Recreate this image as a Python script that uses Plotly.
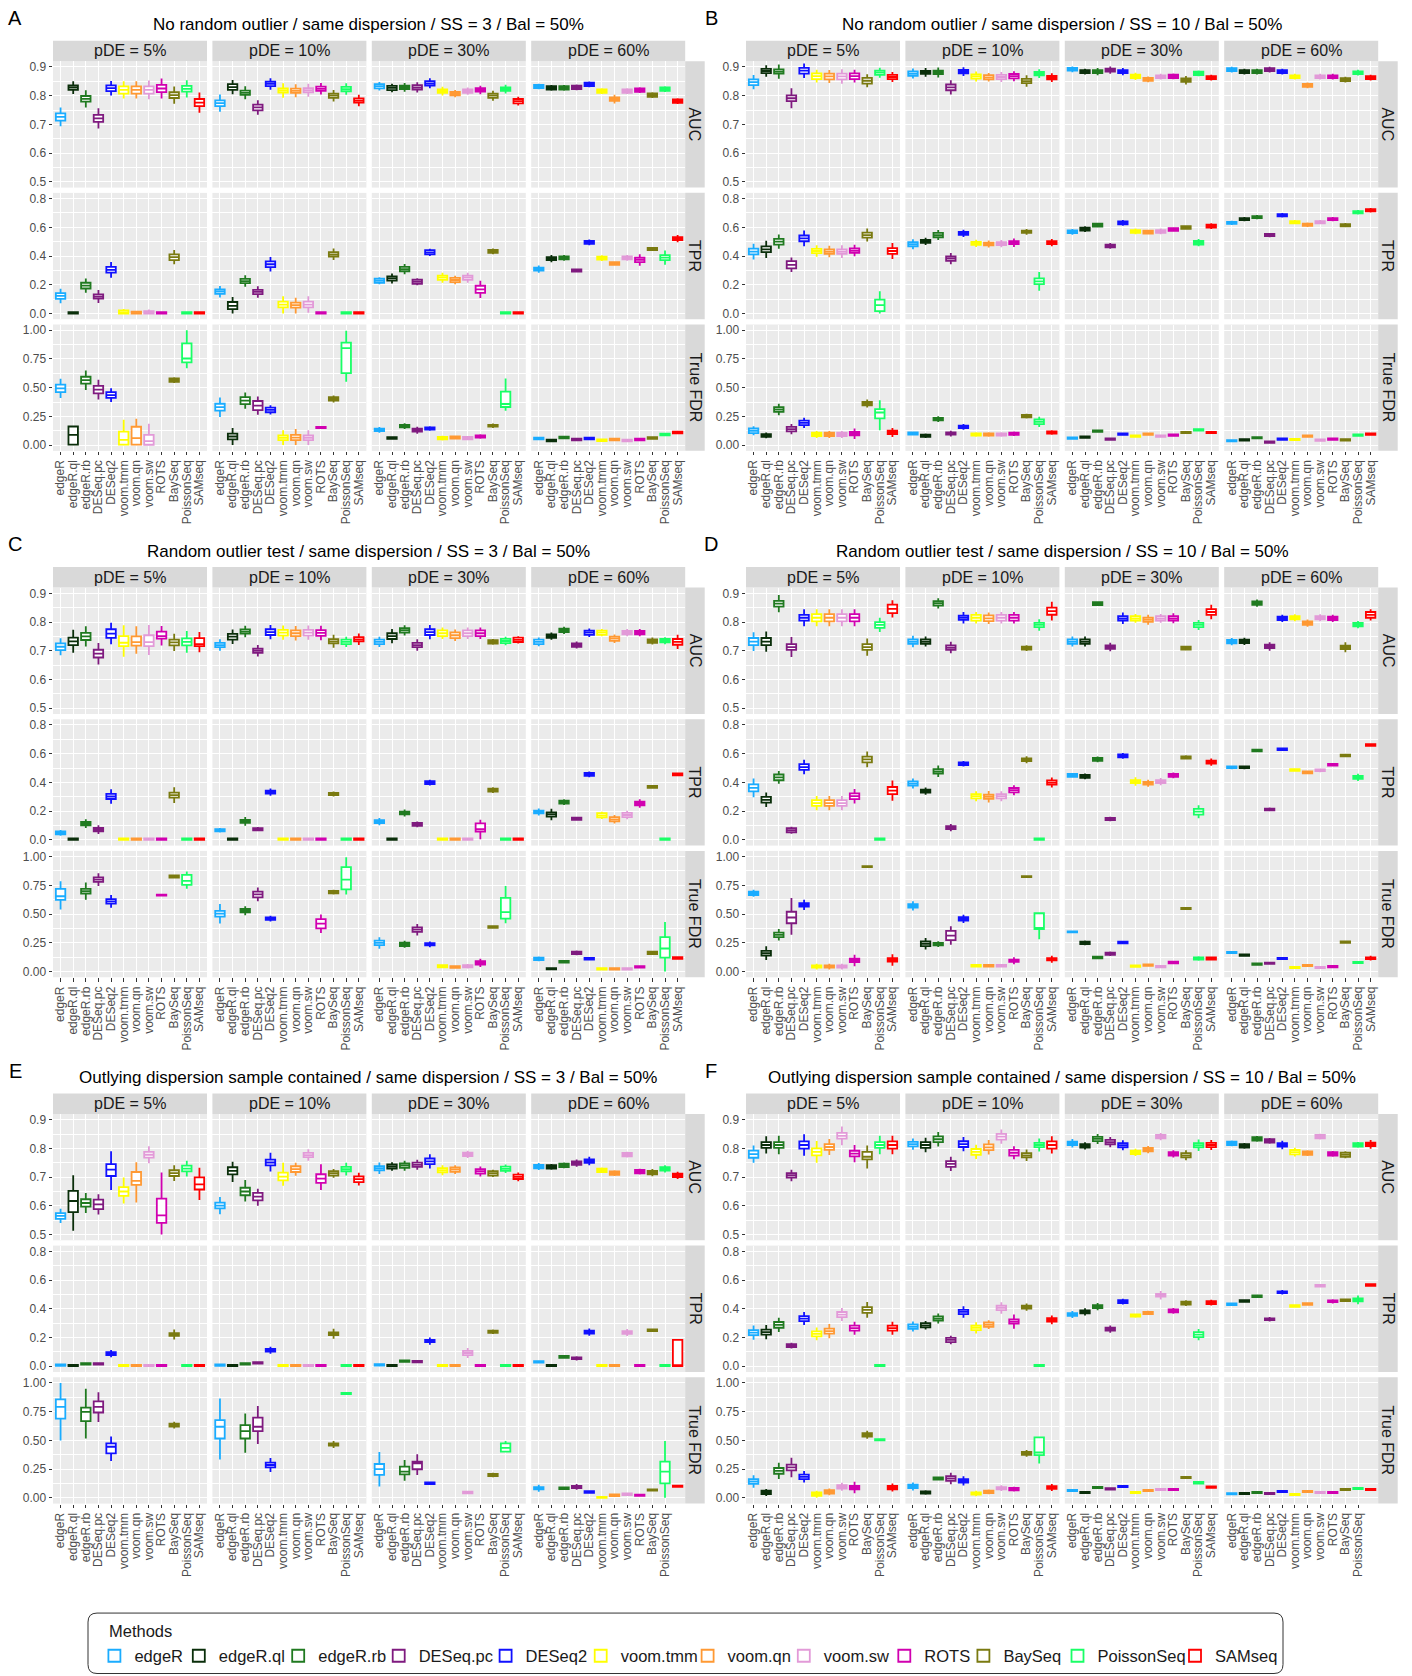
import plotly.graph_objects as go

W, H = 1412, 1676
FONT = "Liberation Sans, Arial, Helvetica, sans-serif"

METHODS = ["edgeR", "edgeR.ql", "edgeR.rb", "DESeq.pc", "DESeq2", "voom.tmm",
           "voom.qn", "voom.sw", "ROTS", "BaySeq", "PoissonSeq", "SAMseq"]
COLORS = ["#1AACFF", "#0A2E0A", "#207A20", "#7F1A7F", "#1010FF", "#FFFF00",
          "#FF9933", "#E29AD8", "#D100B0", "#7A7A10", "#19FF66", "#FF0000"]
PDE = ["pDE = 5%", "pDE = 10%", "pDE = 30%", "pDE = 60%"]
METRICS = ["AUC", "TPR", "True FDR"]
LETTERS = ["A", "B", "C", "D", "E", "F"]
TITLES = ["No random outlier / same dispersion / SS = 3 / Bal = 50%",
          "No random outlier / same dispersion / SS = 10 / Bal = 50%",
          "Random outlier test / same dispersion / SS = 3 / Bal = 50%",
          "Random outlier test / same dispersion / SS = 10 / Bal = 50%",
          "Outlying dispersion sample contained / same dispersion / SS = 3 / Bal = 50%",
          "Outlying dispersion sample contained / same dispersion / SS = 10 / Bal = 50%"]

# ---- medians (rows: pDE 5%,10%,30%,60%; columns: METHODS) ----
# IQR lists: number = box height around median, tuple = (q1, q3)
# WR lists: number = whisker span around median, tuple = (low, high)
A_AUC = [[0.726, 0.828, 0.789, 0.721, 0.826, 0.820, 0.820, 0.820, 0.825, 0.802, 0.824, 0.776],
         [0.774, 0.830, 0.810, 0.759, 0.841, 0.818, 0.817, 0.819, 0.824, 0.800, 0.823, 0.783],
         [0.833, 0.827, 0.829, 0.829, 0.843, 0.816, 0.807, 0.816, 0.820, 0.800, 0.823, 0.781],
         [0.832, 0.827, 0.827, 0.829, 0.839, 0.816, 0.788, 0.816, 0.819, 0.802, 0.823, 0.781]]
A_AUC_IQR = [[0.025, 0.015, 0.02, 0.025, 0.02, 0.025, 0.025, 0.025, 0.025, 0.02, 0.02, 0.025],
             [0.02, 0.02, 0.015, 0.02, 0.015, 0.015, 0.015, 0.015, 0.015, 0.015, 0.015, 0.015],
             [0.015, 0.015, 0.012, 0.015, 0.015, 0.012, 0.012, 0.012, 0.012, 0.015, 0.012, 0.015],
             0.012]
A_AUC_WR = [[0.065, 0.045, 0.06, 0.07, 0.05, 0.06, 0.06, 0.065, 0.07, 0.06, 0.06, 0.07],
            [0.06, 0.05, 0.045, 0.05, 0.04, 0.05, 0.045, 0.045, 0.04, 0.04, 0.04, 0.04],
            [0.03, 0.03, 0.03, 0.035, 0.035, 0.03, 0.025, 0.025, 0.03, 0.035, 0.03, 0.03],
            [0.02, 0.02, 0.02, 0.02, 0.02, 0.02, 0.03, 0.02, 0.02, 0.02, 0.02, 0.02]]
A_TPR = [[0.122, 0.0, 0.194, 0.118, 0.304, 0.007, 0.003, 0.007, 0.0, 0.392, 0.0, 0.0],
         [0.152, 0.053, 0.226, 0.150, 0.343, 0.062, 0.058, 0.062, 0.0, 0.412, 0.0, 0.0],
         [0.228, 0.244, 0.309, 0.221, 0.426, 0.249, 0.233, 0.249, 0.168, 0.433, 0.0, 0.0],
         [0.309, 0.382, 0.387, 0.300, 0.495, 0.385, 0.348, 0.387, 0.373, 0.449, 0.389, 0.521]]
A_TPR_IQR = [[0.04, 0.02, 0.04, 0.03, 0.04, 0.03, 0.02, 0.02, 0.02, 0.04, 0.02, 0.02],
             [0.03, (0.03, 0.08), 0.03, 0.03, 0.04, 0.04, 0.035, 0.04, 0.02, 0.03, 0.02, 0.02],
             [0.03, 0.03, 0.03, 0.03, 0.03, 0.03, 0.03, 0.03, 0.05, 0.02, 0.02, 0.02],
             [0.02, 0.02, 0.02, 0.015, 0.02, 0.02, 0.02, 0.02, 0.03, 0.015, 0.035, 0.02]]
A_TPR_WR = [[0.1, 0.0, 0.1, 0.09, 0.11, 0.05, 0.03, 0.04, 0.0, 0.1, 0.0, 0.0],
            [0.08, (0.0, 0.115), 0.08, 0.08, 0.1, (0.0, 0.12), (0.0, 0.11), (0.005, 0.12), 0.0, 0.08, 0.0, 0.0],
            [0.05, 0.07, 0.07, 0.05, 0.05, 0.07, 0.06, 0.07, 0.12, 0.04, 0.0, 0.0],
            [0.05, 0.05, 0.04, 0.015, 0.04, 0.04, 0.03, 0.04, 0.08, 0.015, 0.1, 0.05]]
A_FDR = [[0.494, 0.090, 0.565, 0.483, 0.436, 0.046, 0.060, 0.035, None, 0.566, 0.754, None],
         [0.330, 0.075, 0.387, 0.344, 0.306, 0.064, 0.066, 0.064, 0.153, 0.402, 0.845, None],
         [0.133, 0.061, 0.165, 0.130, 0.145, 0.061, 0.066, 0.061, 0.075, 0.168, 0.358, None],
         [0.058, 0.040, 0.066, 0.049, 0.058, 0.043, 0.049, 0.040, 0.049, 0.061, 0.092, 0.110]]
A_FDR_IQR = [[0.064, (0.005, 0.162), 0.06, 0.065, 0.05, (0.005, 0.118), (0.005, 0.16), (0.003, 0.09), 0, 0.03, (0.72, 0.885), 0],
             [0.06, 0.05, 0.06, 0.08, 0.04, 0.04, 0.045, 0.04, 0.01, 0.03, (0.627, 0.893), 0],
             [0.02, 0.015, 0.02, 0.025, 0.02, 0.02, 0.02, 0.02, 0.02, 0.015, (0.332, 0.465), 0],
             0.015]
A_FDR_WR = [[0.168, (0.0, 0.16), 0.17, 0.17, 0.12, (0.0, 0.22), (0.0, 0.23), (0.0, 0.185), 0, 0.05, (0.67, 1.0), 0],
            [0.17, (0.0, 0.15), 0.14, 0.16, 0.08, (0.0, 0.13), (0.0, 0.14), (0.0, 0.13), 0.01, 0.06, (0.552, 0.995), 0],
            [0.05, 0.02, 0.05, 0.06, 0.04, 0.04, 0.03, 0.03, 0.04, 0.04, (0.3, 0.58), 0],
            0.02]

B_AUC = [[0.847, 0.886, 0.884, 0.791, 0.887, 0.868, 0.867, 0.867, 0.868, 0.852, 0.880, 0.865],
         [0.877, 0.881, 0.881, 0.829, 0.884, 0.867, 0.864, 0.865, 0.868, 0.851, 0.877, 0.863],
         [0.892, 0.884, 0.884, 0.889, 0.884, 0.867, 0.857, 0.866, 0.867, 0.854, 0.878, 0.863],
         [0.891, 0.884, 0.884, 0.891, 0.884, 0.866, 0.836, 0.866, 0.866, 0.856, 0.880, 0.863]]
B_AUC_IQR = [[0.02, 0.015, 0.015, 0.02, 0.02, 0.02, 0.02, 0.02, 0.02, 0.02, 0.015, 0.015],
             [0.015, 0.01, 0.012, 0.02, 0.012, 0.015, 0.015, 0.015, 0.015, 0.015, 0.012, 0.012],
             [0.01, 0.01, 0.01, 0.01, 0.01, 0.012, 0.01, 0.01, 0.012, 0.012, 0.012, 0.01],
             0.01]
B_AUC_WR = [[0.05, 0.04, 0.05, 0.07, 0.05, 0.045, 0.045, 0.05, 0.045, 0.045, 0.035, 0.035],
            [0.035, 0.03, 0.035, 0.05, 0.03, 0.035, 0.03, 0.035, 0.035, 0.04, 0.03, 0.03],
            [0.02, 0.02, 0.025, 0.025, 0.025, 0.025, 0.02, 0.02, 0.02, 0.03, 0.02, 0.02],
            0.02]
B_TPR = [[0.431, 0.447, 0.500, 0.339, 0.523, 0.435, 0.431, 0.431, 0.438, 0.546, 0.058, 0.435],
         [0.482, 0.502, 0.546, 0.382, 0.558, 0.488, 0.484, 0.486, 0.493, 0.569, 0.224, 0.493],
         [0.569, 0.588, 0.615, 0.470, 0.631, 0.571, 0.567, 0.571, 0.585, 0.599, 0.493, 0.608],
         [0.631, 0.657, 0.671, 0.546, 0.684, 0.636, 0.618, 0.636, 0.657, 0.615, 0.705, 0.719]]
B_TPR_IQR = [[0.04, 0.04, 0.04, 0.05, 0.04, 0.03, 0.03, 0.03, 0.03, 0.035, (0.016, 0.097), 0.04],
             [0.03, 0.02, 0.03, 0.03, 0.02, 0.02, 0.02, 0.02, 0.02, 0.015, 0.04, 0.02],
             [0.02, 0.02, 0.02, 0.02, 0.02, 0.02, 0.02, 0.02, 0.02, 0.02, 0.025, 0.02],
             0.015]
B_TPR_WR = [[0.11, 0.12, 0.1, 0.1, 0.11, 0.08, 0.08, 0.09, 0.08, 0.09, (0.0, 0.155), 0.11],
            [0.07, 0.05, 0.07, 0.08, 0.05, 0.05, 0.05, 0.05, 0.06, 0.04, 0.13, 0.05],
            [0.04, 0.04, 0.03, 0.04, 0.04, 0.04, 0.03, 0.04, 0.03, 0.03, 0.05, 0.04],
            0.03]
B_FDR = [[0.125, 0.084, 0.310, 0.139, 0.194, 0.093, 0.093, 0.093, 0.099, 0.362, 0.284, 0.110],
         [0.101, 0.081, 0.226, 0.101, 0.159, 0.093, 0.093, 0.093, 0.099, 0.252, 0.203, 0.110],
         [0.061, 0.070, 0.122, 0.052, 0.096, 0.078, 0.096, 0.078, 0.087, 0.110, 0.133, 0.110],
         [0.038, 0.046, 0.064, 0.026, 0.052, 0.049, 0.078, 0.043, 0.052, 0.046, 0.087, 0.096]]
B_FDR_IQR = [[0.04, 0.025, 0.04, 0.04, 0.04, 0.03, 0.03, 0.03, 0.03, 0.03, (0.232, 0.313), 0.03],
             [0.02, 0.02, 0.02, 0.02, 0.02, 0.02, 0.02, 0.02, 0.02, 0.02, 0.04, 0.02],
             0.012, 0.012]
B_FDR_WR = [[0.08, 0.05, 0.1, 0.09, 0.09, 0.06, 0.06, 0.06, 0.09, 0.07, (0.13, 0.39), 0.08],
            [0.03, 0.04, 0.05, 0.05, 0.05, 0.04, 0.04, 0.04, 0.04, 0.04, 0.09, 0.04],
            0.015, 0.015]

C_AUC = [[0.714, 0.733, 0.750, 0.690, 0.760, 0.728, 0.730, 0.730, 0.751, 0.729, 0.731, 0.723],
         [0.720, 0.749, 0.767, 0.700, 0.765, 0.763, 0.761, 0.763, 0.762, 0.733, 0.731, 0.740],
         [0.731, 0.751, 0.771, 0.720, 0.765, 0.761, 0.754, 0.761, 0.761, 0.731, 0.734, 0.738],
         [0.731, 0.751, 0.771, 0.720, 0.763, 0.763, 0.742, 0.763, 0.763, 0.734, 0.735, 0.731]]
C_AUC_IQR = [[0.023, 0.026, 0.025, 0.027, 0.03, (0.716, 0.751), (0.718, 0.75), (0.716, 0.754), (0.742, 0.767), 0.02, 0.025, (0.716, 0.744)],
             [0.015, 0.02, 0.015, 0.015, 0.02, 0.02, 0.02, 0.02, 0.02, 0.015, 0.015, 0.015],
             [0.015, 0.02, 0.015, 0.015, 0.02, 0.02, 0.02, 0.02, 0.02, 0.012, 0.015, 0.015],
             [0.015, 0.012, 0.012, 0.012, 0.015, 0.015, 0.015, 0.012, 0.012, 0.012, 0.012, 0.02]]
C_AUC_WR = [[0.06, 0.08, 0.07, 0.075, 0.075, (0.679, 0.789), (0.69, 0.785), (0.685, 0.79), (0.718, 0.786), 0.06, 0.075, (0.695, 0.765)],
            [0.04, 0.05, 0.04, 0.04, 0.05, 0.05, 0.05, 0.05, 0.05, 0.045, 0.035, 0.04],
            [0.035, 0.05, 0.035, 0.04, 0.05, 0.04, 0.04, 0.04, 0.04, 0.02, 0.03, 0.025],
            [0.03, 0.025, 0.025, 0.025, 0.03, 0.025, 0.03, 0.025, 0.025, 0.025, 0.025, 0.05]]
C_TPR = [[0.048, 0.0, 0.113, 0.071, 0.302, 0.0, 0.0, 0.0, 0.0, 0.311, 0.0, 0.0],
         [0.067, 0.0, 0.129, 0.074, 0.332, 0.0, 0.0, 0.0, 0.0, 0.320, 0.0, 0.0],
         [0.127, 0.0, 0.187, 0.108, 0.399, 0.0, 0.0, 0.0, 0.074, 0.346, 0.0, 0.0],
         [0.194, 0.177, 0.263, 0.147, 0.456, 0.171, 0.143, 0.173, 0.253, 0.369, 0.0, 0.456]]
C_TPR_IQR = [[0.02, 0.02, 0.025, 0.025, 0.035, 0.02, 0.02, 0.02, 0.02, 0.035, 0.02, 0.02],
             [0.015, 0.02, 0.02, 0.015, 0.02, 0.02, 0.02, 0.02, 0.02, 0.015, 0.02, 0.02],
             [0.02, 0.02, 0.02, 0.02, 0.02, 0.02, 0.02, 0.02, (0.058, 0.115), 0.02, 0.02, 0.02],
             [0.02, 0.03, 0.02, 0.015, 0.02, 0.03, 0.03, 0.03, 0.025, 0.012, 0.02, 0.015]]
C_TPR_WR = [[0.04, 0.0, 0.06, 0.06, 0.1, 0.0, 0.0, 0.0, 0.0, 0.11, 0.0, 0.0],
            [0.03, 0.0, 0.06, 0.03, 0.05, 0.0, 0.0, 0.0, 0.0, 0.035, 0.0, 0.0],
            [0.05, 0.0, 0.05, 0.04, 0.04, 0.0, 0.0, 0.0, (0.005, 0.14), 0.04, 0.0, 0.0],
            [0.05, 0.08, 0.04, 0.025, 0.04, 0.05, 0.06, 0.06, 0.06, 0.012, 0.0, 0.02]]
C_FDR = [[0.655, None, 0.699, 0.800, 0.610, None, None, None, 0.665, 0.827, 0.789, None],
         [0.503, None, 0.529, 0.671, 0.460, None, None, None, 0.416, 0.691, 0.800, None],
         [0.249, None, 0.237, 0.364, 0.237, 0.046, 0.040, 0.046, 0.075, 0.387, 0.517, None],
         [0.110, 0.023, 0.084, 0.162, 0.110, 0.023, 0.023, 0.023, 0.040, 0.162, 0.200, 0.118]]
C_FDR_IQR = [[(0.624, 0.72), 0, 0.04, 0.04, 0.04, 0, 0, 0, 0.01, 0.02, (0.754, 0.841), 0],
             [0.05, 0, 0.03, 0.05, 0.02, 0, 0, 0, 0.08, 0.02, (0.714, 0.908), 0],
             [0.04, 0, 0.03, 0.04, 0.02, 0.02, 0.015, 0.02, 0.03, 0.015, (0.46, 0.64), 0],
             [0.02, 0.01, 0.015, 0.02, 0.015, 0.012, 0.012, 0.012, 0.012, 0.02, (0.121, 0.3), 0.015]]
C_FDR_WR = [[(0.54, 0.785), 0, 0.15, 0.11, 0.11, 0, 0, 0, 0.01, 0.035, (0.72, 0.87), 0],
            [0.17, 0, 0.08, 0.12, 0.05, 0, 0, 0, 0.16, 0.04, (0.67, 0.995), 0],
            [0.1, 0, 0.06, 0.1, 0.05, 0.03, 0.02, 0.04, 0.07, 0.02, (0.42, 0.745), 0],
            [0.04, 0.02, 0.02, 0.04, 0.02, 0.015, 0.015, 0.015, 0.015, 0.03, (0.0, 0.43), 0.02]]

D_AUC = [[0.732, 0.732, 0.864, 0.713, 0.815, 0.815, 0.815, 0.815, 0.815, 0.713, 0.790, 0.846],
         [0.732, 0.732, 0.865, 0.711, 0.815, 0.815, 0.813, 0.815, 0.815, 0.709, 0.790, 0.838],
         [0.732, 0.732, 0.864, 0.713, 0.813, 0.813, 0.808, 0.813, 0.813, 0.709, 0.790, 0.835],
         [0.732, 0.733, 0.866, 0.715, 0.813, 0.815, 0.796, 0.815, 0.813, 0.712, 0.791, 0.825]]
D_AUC_IQR = [[0.025, 0.025, 0.02, 0.02, 0.02, 0.025, 0.025, 0.025, 0.025, 0.02, 0.02, 0.03],
             [0.015, 0.015, 0.015, 0.015, 0.015, 0.02, 0.02, 0.02, 0.02, 0.01, 0.015, 0.025],
             [0.015, 0.015, 0.01, 0.012, 0.015, 0.015, 0.015, 0.015, 0.015, 0.01, 0.015, 0.02],
             [0.012, 0.012, 0.012, 0.012, 0.012, 0.012, 0.012, 0.012, 0.012, 0.012, 0.012, 0.02]]
D_AUC_WR = [[0.065, 0.07, 0.06, 0.07, 0.06, 0.06, 0.06, 0.06, 0.06, 0.06, 0.05, 0.06],
            [0.04, 0.035, 0.035, 0.04, 0.04, 0.04, 0.04, 0.04, 0.04, 0.02, 0.04, 0.065],
            [0.035, 0.035, 0.015, 0.03, 0.04, 0.03, 0.035, 0.03, 0.035, 0.015, 0.035, 0.05],
            [0.025, 0.025, 0.025, 0.03, 0.025, 0.025, 0.025, 0.025, 0.025, 0.035, 0.025, 0.04]]
D_TPR = [[0.362, 0.279, 0.435, 0.067, 0.507, 0.256, 0.256, 0.256, 0.304, 0.560, 0.0, 0.343],
         [0.392, 0.339, 0.477, 0.085, 0.530, 0.304, 0.300, 0.304, 0.346, 0.558, 0.0, 0.399],
         [0.449, 0.442, 0.560, 0.145, 0.585, 0.406, 0.394, 0.406, 0.449, 0.574, 0.196, 0.541],
         [0.505, 0.505, 0.622, 0.212, 0.631, 0.486, 0.470, 0.484, 0.523, 0.588, 0.435, 0.661]]
D_TPR_IQR = [[0.05, 0.04, 0.04, 0.03, 0.04, 0.04, 0.04, 0.04, 0.04, 0.04, 0.02, 0.05],
             [0.03, 0.02, 0.03, 0.02, 0.02, 0.03, 0.03, 0.03, 0.03, 0.02, 0.02, 0.03],
             [0.02, 0.02, 0.02, 0.015, 0.02, 0.02, 0.02, 0.02, 0.02, 0.015, 0.04, 0.02],
             [0.012, 0.012, 0.012, 0.012, 0.012, 0.012, 0.012, 0.012, 0.012, 0.012, 0.02, 0.012]]
D_TPR_WR = [[0.13, 0.1, 0.09, 0.05, 0.1, 0.1, 0.1, 0.1, 0.1, 0.11, 0.0, 0.14],
            [0.07, 0.05, 0.08, 0.05, 0.04, 0.07, 0.08, 0.07, 0.07, 0.05, 0.0, 0.07],
            [0.03, 0.04, 0.04, 0.03, 0.04, 0.06, 0.05, 0.05, 0.04, 0.03, 0.09, 0.05],
            [0.025, 0.025, 0.025, 0.025, 0.025, 0.025, 0.025, 0.025, 0.025, 0.025, 0.05, 0.025]]
D_FDR = [[0.681, 0.159, 0.319, 0.470, 0.580, 0.043, 0.043, 0.043, 0.096, 0.913, None, 0.101],
         [0.571, 0.241, 0.238, 0.313, 0.458, 0.049, 0.049, 0.049, 0.093, 0.826, 0.380, 0.107],
         [0.345, 0.249, 0.122, 0.154, 0.252, 0.046, 0.055, 0.043, 0.078, 0.548, 0.113, 0.113],
         [0.165, 0.142, 0.064, 0.072, 0.113, 0.035, 0.052, 0.035, 0.043, 0.255, 0.078, 0.116]]
D_FDR_IQR = [[0.03, 0.04, 0.04, (0.42, 0.52), 0.03, 0.02, 0.02, 0.02, 0.03, 0.01, 0, 0.03],
             [0.03, 0.04, 0.02, 0.08, 0.03, 0.015, 0.015, 0.015, 0.02, 0.01, (0.368, 0.507), 0.02],
             [0.01, 0.02, 0.015, 0.02, 0.015, 0.012, 0.012, 0.012, 0.015, 0.01, 0.02, 0.02],
             [0.012, 0.012, 0.012, 0.012, 0.012, 0.012, 0.012, 0.012, 0.012, 0.012, 0.012, 0.015]]
D_FDR_WR = [[0.06, 0.12, 0.1, (0.32, 0.64), 0.09, 0.05, 0.05, 0.05, 0.1, 0.01, 0, 0.1],
            [0.08, 0.1, 0.05, 0.16, 0.07, 0.03, 0.03, 0.03, 0.06, 0.01, (0.28, 0.507), 0.06],
            [0.01, 0.04, 0.02, 0.04, 0.03, 0.015, 0.015, 0.015, 0.03, 0.01, 0.04, 0.03],
            [0.015, 0.015, 0.015, 0.015, 0.015, 0.015, 0.015, 0.015, 0.015, 0.015, 0.015, 0.04]]

E_AUC = [[0.565, 0.617, 0.610, 0.605, 0.726, 0.650, 0.687, 0.778, 0.567, 0.714, 0.730, 0.675],
         [0.601, 0.722, 0.650, 0.632, 0.751, 0.702, 0.728, 0.777, 0.695, 0.713, 0.728, 0.693],
         [0.731, 0.737, 0.740, 0.743, 0.755, 0.724, 0.726, 0.779, 0.720, 0.713, 0.729, 0.701],
         [0.737, 0.736, 0.741, 0.749, 0.756, 0.724, 0.714, 0.778, 0.719, 0.716, 0.729, 0.706]]
E_AUC_IQR = [[0.02, (0.578, 0.652), 0.026, 0.033, (0.704, 0.745), 0.03, (0.673, 0.718), 0.02, (0.541, 0.625), 0.02, 0.02, (0.657, 0.699)],
             [0.02, 0.025, 0.026, 0.026, 0.02, 0.027, 0.02, 0.015, 0.03, 0.015, 0.015, 0.02],
             [0.015, 0.015, 0.015, 0.015, 0.02, 0.015, 0.015, 0.012, 0.015, 0.015, 0.015, 0.015],
             0.012]
E_AUC_WR = [[0.05, (0.513, 0.707), 0.07, 0.07, (0.655, 0.79), (0.608, 0.699), (0.612, 0.752), 0.06, (0.5, 0.716), 0.055, 0.055, (0.62, 0.733)],
            [0.06, (0.683, 0.754), (0.615, 0.69), (0.6, 0.66), (0.72, 0.785), (0.67, 0.75), (0.705, 0.75), 0.04, (0.655, 0.745), 0.03, 0.045, 0.045],
            [0.04, 0.03, 0.035, 0.035, 0.05, 0.035, 0.03, 0.025, 0.035, 0.025, 0.03, 0.03],
            [0.025, 0.02, 0.02, 0.025, 0.03, 0.02, 0.02, 0.02, 0.02, 0.025, 0.025, 0.025]]
E_TPR = [[0.007, 0.0, 0.016, 0.016, 0.088, 0.0, 0.0, 0.0, 0.0, 0.221, 0.0, 0.0],
         [0.007, 0.0, 0.016, 0.023, 0.111, 0.0, 0.0, 0.0, 0.0, 0.226, 0.0, 0.0],
         [0.009, 0.0, 0.035, 0.032, 0.175, 0.0, 0.0, 0.092, 0.0, 0.240, 0.0, 0.0],
         [0.030, 0.0, 0.065, 0.055, 0.237, 0.0, 0.0, 0.235, 0.0, 0.251, 0.0, 0.0]]
E_TPR_IQR = [[0.01, 0.02, 0.01, 0.01, 0.02, 0.02, 0.02, 0.02, 0.02, 0.02, 0.02, 0.02],
             [0.01, 0.02, 0.01, 0.01, 0.02, 0.02, 0.02, 0.02, 0.02, 0.02, 0.02, 0.02],
             [0.01, 0.02, 0.01, 0.01, 0.015, 0.02, 0.02, 0.03, 0.02, 0.015, 0.02, 0.02],
             [0.01, 0.02, 0.012, 0.012, 0.02, 0.02, 0.02, 0.02, 0.02, 0.012, 0.02, (0.0, 0.184)]]
E_TPR_WR = [[0.01, 0.0, 0.02, 0.02, 0.05, 0.0, 0.0, 0.0, 0.0, 0.07, 0.0, 0.0],
            [0.01, 0.0, 0.01, 0.01, 0.05, 0.0, 0.0, 0.0, 0.0, 0.07, 0.0, 0.0],
            [0.01, 0.0, 0.015, 0.015, 0.05, 0.0, 0.0, 0.07, 0.0, 0.03, 0.0, 0.0],
            [0.01, 0.0, 0.025, 0.03, 0.05, 0.0, 0.0, 0.05, 0.0, 0.025, 0.0, (0.0, 0.19)]]
E_FDR = [[0.792, None, 0.749, 0.792, 0.445, None, None, None, None, 0.633, None, None],
         [0.619, None, 0.581, 0.619, 0.286, None, None, None, None, 0.465, 0.908, None],
         [0.251, None, 0.228, 0.300, 0.127, None, None, 0.046, None, 0.199, 0.436, None],
         [0.084, None, 0.084, 0.095, 0.052, 0.003, 0.023, 0.032, 0.023, 0.069, 0.228, 0.101]]
E_FDR_IQR = [[(0.69, 0.858), 0, (0.668, 0.786), (0.743, 0.84), (0.387, 0.474), 0, 0, 0, 0, 0.025, 0, 0],
             [(0.517, 0.676), 0, (0.517, 0.633), (0.581, 0.699), 0.04, 0, 0, 0, 0, 0.02, 0.01, 0],
             [(0.2, 0.295), 0, (0.205, 0.272), (0.249, 0.315), 0.015, 0, 0, 0.015, 0, 0.02, (0.402, 0.474), 0],
             [0.02, 0, 0.015, 0.02, 0.015, 0.01, 0.015, 0.015, 0.01, 0.01, (0.127, 0.315), 0.01]]
E_FDR_WR = [[(0.5, 1.0), 0, (0.517, 0.951), (0.66, 0.92), (0.32, 0.535), 0, 0, 0, 0, 0.06, 0, 0],
            [(0.335, 0.864), 0, (0.393, 0.734), (0.47, 0.8), 0.12, 0, 0, 0, 0, 0.06, 0.01, 0],
            [(0.098, 0.4), 0, (0.15, 0.33), (0.2, 0.38), 0.03, 0, 0, 0.03, 0, 0.04, (0.4, 0.495), 0],
            [0.06, 0, 0.03, 0.05, 0.02, 0.01, 0.03, 0.02, 0.01, 0.02, (0.0, 0.494), 0.01]]

F_AUC = [[0.780, 0.812, 0.812, 0.706, 0.812, 0.788, 0.805, 0.844, 0.782, 0.771, 0.812, 0.812],
         [0.815, 0.812, 0.832, 0.746, 0.815, 0.788, 0.804, 0.841, 0.785, 0.776, 0.812, 0.812],
         [0.818, 0.809, 0.833, 0.822, 0.811, 0.786, 0.796, 0.841, 0.781, 0.776, 0.811, 0.812],
         [0.818, 0.809, 0.833, 0.826, 0.812, 0.787, 0.784, 0.841, 0.781, 0.778, 0.812, 0.814]]
F_AUC_IQR = [[0.025, 0.02, 0.02, 0.015, 0.025, 0.025, 0.02, 0.02, 0.02, (0.762, 0.788), 0.02, 0.025],
             [0.015, 0.02, 0.02, 0.02, 0.02, 0.02, 0.02, 0.02, 0.02, 0.015, 0.015, 0.025],
             [0.012, 0.012, 0.015, 0.015, 0.015, 0.012, 0.012, 0.012, 0.012, 0.015, 0.015, 0.015],
             [0.012, 0.012, 0.012, 0.012, 0.012, 0.015, 0.012, 0.012, 0.012, 0.015, 0.012, 0.012]]
F_AUC_WR = [[0.06, 0.06, 0.065, 0.04, 0.075, 0.075, 0.055, 0.065, 0.06, (0.73, 0.81), 0.065, 0.065],
            [0.04, 0.05, 0.05, 0.05, 0.05, 0.05, 0.05, 0.05, 0.045, 0.04, 0.045, 0.06],
            [0.03, 0.025, 0.035, 0.035, 0.035, 0.025, 0.025, 0.025, 0.025, 0.035, 0.04, 0.035],
            [0.02, 0.02, 0.02, 0.02, 0.03, 0.03, 0.02, 0.02, 0.02, 0.025, 0.02, 0.03]]
F_TPR = [[0.234, 0.237, 0.288, 0.144, 0.332, 0.225, 0.244, 0.360, 0.265, 0.392, 0.0, 0.265],
         [0.276, 0.285, 0.332, 0.183, 0.378, 0.267, 0.290, 0.406, 0.311, 0.411, 0.0, 0.323],
         [0.360, 0.378, 0.415, 0.258, 0.450, 0.353, 0.371, 0.494, 0.385, 0.439, 0.220, 0.443],
         [0.432, 0.455, 0.487, 0.327, 0.515, 0.420, 0.434, 0.561, 0.452, 0.459, 0.462, 0.566]]
F_TPR_IQR = [[0.035, 0.035, 0.04, 0.02, 0.035, 0.035, 0.035, 0.035, 0.035, 0.04, 0.02, 0.035],
             [0.03, 0.03, 0.03, 0.03, 0.03, 0.03, 0.03, 0.03, 0.03, 0.02, 0.02, 0.025],
             [0.02, 0.02, 0.02, 0.02, 0.02, 0.015, 0.015, 0.02, 0.02, 0.02, 0.035, 0.02],
             [0.012, 0.012, 0.012, 0.012, 0.012, 0.012, 0.012, 0.012, 0.012, 0.012, 0.02, 0.012]]
F_TPR_WR = [[0.1, 0.1, 0.1, 0.04, 0.09, 0.09, 0.1, 0.09, 0.09, 0.11, 0.0, 0.09],
            [0.07, 0.06, 0.07, 0.06, 0.08, 0.08, 0.06, 0.08, 0.1, 0.05, 0.0, 0.06],
            [0.05, 0.05, 0.05, 0.05, 0.04, 0.03, 0.03, 0.06, 0.04, 0.04, 0.08, 0.04],
            [0.02, 0.02, 0.02, 0.03, 0.03, 0.02, 0.02, 0.02, 0.03, 0.02, 0.06, 0.02]]
F_FDR = [[0.142, 0.047, 0.235, 0.265, 0.183, 0.032, 0.052, 0.096, 0.090, 0.549, 0.506, 0.090],
         [0.099, 0.047, 0.169, 0.169, 0.148, 0.038, 0.052, 0.084, 0.076, 0.387, 0.395, 0.090],
         [0.064, 0.047, 0.090, 0.078, 0.099, 0.047, 0.064, 0.073, 0.073, 0.177, 0.131, 0.093],
         [0.035, 0.038, 0.047, 0.038, 0.055, 0.029, 0.055, 0.047, 0.047, 0.073, 0.081, 0.073]]
F_FDR_IQR = [[0.04, 0.03, 0.05, 0.05, 0.04, 0.03, 0.03, 0.03, 0.03, 0.03, 0.01, 0.03],
             [0.03, 0.02, 0.02, 0.04, 0.03, 0.02, 0.02, 0.02, 0.02, 0.025, (0.372, 0.526), 0.025],
             [0.01, 0.01, 0.01, 0.012, 0.01, 0.01, 0.012, 0.01, 0.01, 0.01, 0.015, 0.012],
             0.01]
F_FDR_WR = [[0.11, 0.06, 0.14, 0.17, 0.1, 0.06, 0.06, 0.07, 0.1, 0.07, 0.01, 0.07],
            [0.07, 0.04, 0.03, 0.1, 0.08, 0.05, 0.04, 0.05, 0.04, 0.06, (0.3, 0.526), 0.06],
            [0.015, 0.015, 0.015, 0.025, 0.015, 0.015, 0.025, 0.015, 0.015, 0.015, 0.03, 0.025],
            0.015]

PANEL_DATA = [
    [(A_AUC, A_AUC_IQR, A_AUC_WR), (A_TPR, A_TPR_IQR, A_TPR_WR), (A_FDR, A_FDR_IQR, A_FDR_WR)],
    [(B_AUC, B_AUC_IQR, B_AUC_WR), (B_TPR, B_TPR_IQR, B_TPR_WR), (B_FDR, B_FDR_IQR, B_FDR_WR)],
    [(C_AUC, C_AUC_IQR, C_AUC_WR), (C_TPR, C_TPR_IQR, C_TPR_WR), (C_FDR, C_FDR_IQR, C_FDR_WR)],
    [(D_AUC, D_AUC_IQR, D_AUC_WR), (D_TPR, D_TPR_IQR, D_TPR_WR), (D_FDR, D_FDR_IQR, D_FDR_WR)],
    [(E_AUC, E_AUC_IQR, E_AUC_WR), (E_TPR, E_TPR_IQR, E_TPR_WR), (E_FDR, E_FDR_IQR, E_FDR_WR)],
    [(F_AUC, F_AUC_IQR, F_AUC_WR), (F_TPR, F_TPR_IQR, F_TPR_WR), (F_FDR, F_FDR_IQR, F_FDR_WR)],
]

# axis settings per metric row
Y_RANGE = [[0.48, 0.92], [-0.04, 0.84], [-0.05, 1.05]]
Y_TICK0 = [0.5, 0.0, 0.0]
Y_DTICK = [0.1, 0.2, 0.25]
Y_MINOR = [0.05, 0.1, 0.125]
Y_FMT = [".1f", ".1f", ".2f"]

# ---- geometry (pixels) ----
PANEL_X0 = [53.0, 746.0]
COL_STEP, COL_W = 159.4, 154.0
STRIP_W = 19.5
PANEL_DY = [0.0, 527.0, 1054.0]
STRIP_Y = (39.7, 60.3)
ROW_Y = [(60.3, 186.8), (192.1, 318.6), (323.9, 450.4)]
TITLE_X = [368.0, 1062.0]
TITLE_Y = 24.0
LETTER_X = [15.0, 711.0]
LETTER_Y = 17.0
LEGEND_ICON_X = [114.4, 198.8, 298.2, 398.7, 505.6, 600.7, 707.6, 803.8, 904.3, 983.4, 1077.5, 1195.0]
LEGEND_Y = 1657.0


def px(x):
    return x / W


def py(y):
    return 1 - y / H


def pick(row, k):
    return row[k] if isinstance(row, list) else row


def box_stats(med, iq, wr):
    if isinstance(iq, tuple):
        q1, q3 = iq
    else:
        q1, q3 = med - iq / 2, med + iq / 2
    if isinstance(wr, tuple):
        lo, hi = wr
    else:
        lo, hi = med - wr / 2, med + wr / 2
    q1 = max(0.0, min(q1, med))
    q3 = min(1.0, max(q3, med))
    lo = max(0.0, min(lo, q1))
    hi = min(1.0, max(hi, q3))
    return q1, q3, lo, hi


def legend_name(k):
    return "legend" if k == 0 else f"legend{k + 1}"


fig = go.Figure()
layout = {}
shapes = []
annotations = []

for p in range(6):
    gr, gc = p // 2, p % 2
    dy = PANEL_DY[gr]
    x0p = PANEL_X0[gc]
    for ri in range(3):
        meds, iqrs, wrs = PANEL_DATA[p][ri]
        ya, yb = ROW_Y[ri][0] + dy, ROW_Y[ri][1] + dy
        for ci in range(4):
            n = p * 12 + ri * 4 + ci + 1
            xa = x0p + ci * COL_STEP
            xb = xa + COL_W
            xname = "xaxis" if n == 1 else f"xaxis{n}"
            yname = "yaxis" if n == 1 else f"yaxis{n}"
            xref = "x" if n == 1 else f"x{n}"
            yref = "y" if n == 1 else f"y{n}"
            bottom = ri == 2
            tv = METHODS[:11] if (gr == 2 and ci == 3) else METHODS
            layout[xname] = dict(
                domain=[px(xa), px(xb)], anchor=yref, type="category",
                categoryorder="array", categoryarray=METHODS,
                range=[-0.6, 11.6], tickmode="array", tickvals=tv, ticktext=tv,
                showgrid=True, gridcolor="white", gridwidth=1.3,
                zeroline=False, showline=False,
                ticks="outside" if bottom else "", ticklen=3.5, tickwidth=1,
                tickcolor="#333333", showticklabels=bottom, tickangle=-90,
                tickfont=dict(size=12, color="#4D4D4D", family=FONT),
                fixedrange=True)
            layout[yname] = dict(
                domain=[py(yb), py(ya)], anchor=xref, range=Y_RANGE[ri],
                tickmode="linear", tick0=Y_TICK0[ri], dtick=Y_DTICK[ri],
                tickformat=Y_FMT[ri], showgrid=True, gridcolor="white", gridwidth=1.3,
                minor=dict(tick0=Y_TICK0[ri], dtick=Y_MINOR[ri], showgrid=True,
                           gridcolor="white", gridwidth=0.6),
                zeroline=False, showline=False,
                ticks="outside" if ci == 0 else "", ticklen=3.5, tickwidth=1,
                tickcolor="#333333", showticklabels=(ci == 0),
                tickfont=dict(size=12, color="#4D4D4D", family=FONT),
                fixedrange=True)
            for k, m in enumerate(METHODS):
                med = meds[ci][k]
                if med is None:
                    continue
                q1, q3, lo, hi = box_stats(med, pick(iqrs[ci], k), pick(wrs[ci], k))
                fig.add_trace(go.Box(
                    x=[m], q1=[q1], median=[med], q3=[q3], lowerfence=[lo], upperfence=[hi],
                    xaxis=xref, yaxis=yref, name=m, legendgroup=m, legend=legend_name(k),
                    showlegend=(n == 1), line=dict(color=COLORS[k], width=1.8),
                    marker=dict(color=COLORS[k]), fillcolor="white",
                    width=0.75, whiskerwidth=0, boxpoints=False, hoverinfo="skip"))
            if ri == 0:
                shapes.append(dict(type="rect", xref="paper", yref="paper",
                                   x0=px(xa), x1=px(xb), y0=py(STRIP_Y[1] + dy), y1=py(STRIP_Y[0] + dy),
                                   fillcolor="#D9D9D9", line=dict(width=0), layer="below"))
                annotations.append(dict(text=PDE[ci], xref="paper", yref="paper",
                                        x=px((xa + xb) / 2), y=py((STRIP_Y[0] + STRIP_Y[1]) / 2 + dy),
                                        showarrow=False, xanchor="center", yanchor="middle",
                                        font=dict(size=16, color="#1A1A1A", family=FONT)))
        sx0 = x0p + 3 * COL_STEP + COL_W
        shapes.append(dict(type="rect", xref="paper", yref="paper",
                           x0=px(sx0), x1=px(sx0 + STRIP_W), y0=py(yb), y1=py(ya),
                           fillcolor="#D9D9D9", line=dict(width=0), layer="below"))
        annotations.append(dict(text=METRICS[ri], xref="paper", yref="paper",
                                x=px(sx0 + STRIP_W / 2), y=py((ya + yb) / 2), textangle=90,
                                showarrow=False, xanchor="center", yanchor="middle",
                                font=dict(size=16, color="#1A1A1A", family=FONT)))
    annotations.append(dict(text=TITLES[p], xref="paper", yref="paper",
                            x=px(TITLE_X[gc]), y=py(TITLE_Y + dy), showarrow=False,
                            xanchor="center", yanchor="middle",
                            font=dict(size=17, color="black", family=FONT)))
    annotations.append(dict(text=LETTERS[p], xref="paper", yref="paper",
                            x=px(LETTER_X[gc]), y=py(LETTER_Y + dy), showarrow=False,
                            xanchor="center", yanchor="middle",
                            font=dict(size=20, color="black", family=FONT)))

# legend title
annotations.append(dict(text="Methods", xref="paper", yref="paper", x=px(107), y=py(1632),
                        showarrow=False, xanchor="left", yanchor="middle",
                        font=dict(size=16.5, color="#1A1A1A", family=FONT)))

# rounded legend frame
lx0, lx1, ly0, ly1, r = 88.0, 1283.0, 1614.0, 1674.5, 9.0
path = (f"M {px(lx0 + r)},{py(ly0)} L {px(lx1 - r)},{py(ly0)} "
        f"Q {px(lx1)},{py(ly0)} {px(lx1)},{py(ly0 + r)} L {px(lx1)},{py(ly1 - r)} "
        f"Q {px(lx1)},{py(ly1)} {px(lx1 - r)},{py(ly1)} L {px(lx0 + r)},{py(ly1)} "
        f"Q {px(lx0)},{py(ly1)} {px(lx0)},{py(ly1 - r)} L {px(lx0)},{py(ly0 + r)} "
        f"Q {px(lx0)},{py(ly0)} {px(lx0 + r)},{py(ly0)} Z")
shapes.append(dict(type="path", xref="paper", yref="paper", path=path,
                   line=dict(color="#333333", width=1), fillcolor="rgba(0,0,0,0)"))

for k in range(len(METHODS)):
    layout[legend_name(k)] = dict(
        orientation="h", x=px(LEGEND_ICON_X[k] - 20), xanchor="left",
        y=py(LEGEND_Y), yanchor="middle", bgcolor="rgba(0,0,0,0)", borderwidth=0,
        itemwidth=30, font=dict(size=16.5, color="#1A1A1A", family=FONT),
        itemclick=False, itemdoubleclick=False)

fig.update_layout(
    width=W, height=H, margin=dict(l=0, r=0, t=0, b=0),
    paper_bgcolor="white", plot_bgcolor="#EBEBEB",
    font=dict(family=FONT, color="#1A1A1A"),
    boxmode="overlay", shapes=shapes, annotations=annotations,
    **layout)

fig.write_html("out.html")
